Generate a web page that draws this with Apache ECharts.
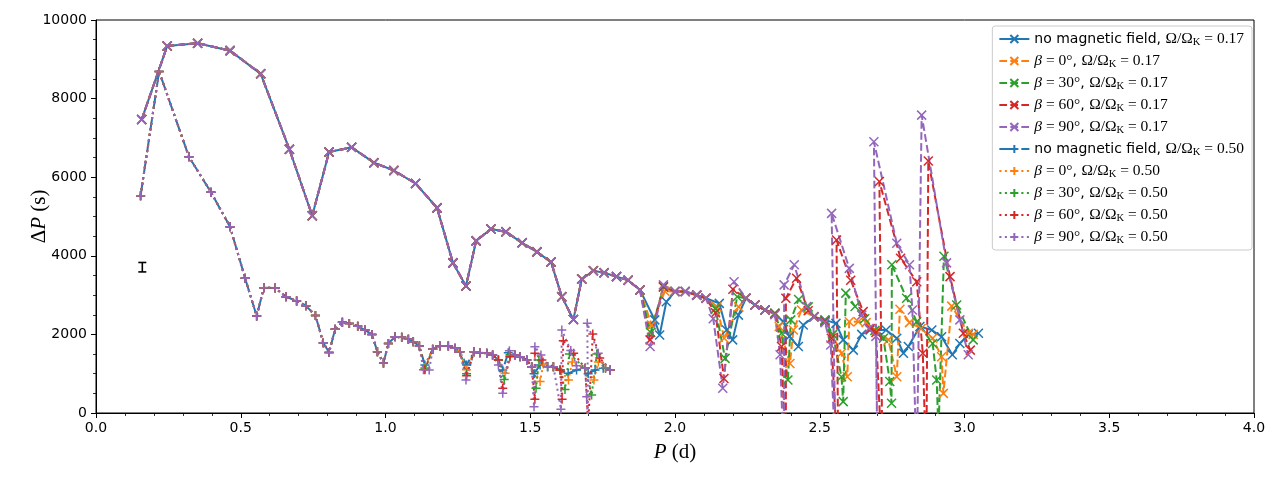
<!DOCTYPE html>
<html>
<head>
<meta charset="utf-8">
<title>Period spacing</title>
<script src="https://cdn.jsdelivr.net/npm/echarts@6/dist/echarts.min.js"></script>
<style>
  html, body { margin: 0; padding: 0; background: #fff; }
  #chart { width: 1280px; height: 480px; }
</style>
</head>
<body>
<div id="chart"></div>
<script>
// ---- data: [P (d), dP (s)] ----
// Omega/OmegaK = 0.17, shared part of all five curves
var upperHead = [[0.158,7470],[0.246,9340],[0.351,9410],[0.463,9220],[0.569,8630],[0.668,6710],[0.747,5020],
  [0.805,6640],[0.883,6760],[0.960,6370],[1.029,6170],[1.104,5840],[1.178,5220],[1.233,3820],[1.278,3230],
  [1.313,4380],[1.364,4680],[1.416,4610],[1.472,4330],[1.523,4100],[1.572,3840],[1.609,2960],[1.649,2380],
  [1.678,3410],[1.718,3620],[1.755,3570],[1.798,3470],[1.838,3380],[1.879,3130]];
var noMag017 = [[1.93,2370],[1.947,1985],[1.97,2830],[2.0,3090],[2.035,3090],[2.075,3000],[2.107,2920],
  [2.153,2790],[2.178,2110],[2.199,1860],[2.219,2490],[2.245,2920],[2.276,2750],[2.311,2620],[2.345,2540],
  [2.374,2320],[2.395,1950],[2.426,1690],[2.443,2240],[2.48,2450],[2.518,2370],[2.556,2280],[2.581,1860],
  [2.616,1600],[2.645,2000],[2.674,2110],[2.729,2110],[2.766,1900],[2.789,1520],[2.806,1690],[2.846,2200],
  [2.887,2110],[2.921,1940],[2.958,1480],[2.984,1770],[3.013,1990],[3.048,2030]];
var beta0_017 = [[1.919,2240],[1.965,3100],[2.0,3090],[2.035,3090],[2.075,3000],[2.107,2920],[2.145,2700],
  [2.17,1900],[2.22,2700],[2.245,2920],[2.276,2750],[2.311,2620],[2.345,2540],[2.36,2200],[2.397,1260],
  [2.409,2110],[2.437,2620],[2.48,2450],[2.518,2350],[2.575,1520],[2.595,920],[2.602,2320],[2.633,2320],
  [2.66,2300],[2.694,2100],[2.737,1860],[2.766,920],[2.777,2640],[2.81,2300],[2.85,2150],[2.89,1900],
  [2.921,1430],[2.927,500],[2.956,2720],[3.013,2030],[3.03,2000]];
var beta30_017 = [[1.916,2050],[1.96,3200],[2.0,3090],[2.035,3090],[2.075,3000],[2.107,2920],[2.14,2650],
  [2.173,1390],[2.215,2960],[2.245,2920],[2.276,2750],[2.311,2620],[2.345,2540],[2.368,2030],[2.39,840],
  [2.40,2370],[2.427,2890],[2.46,2700],[2.48,2450],[2.518,2350],[2.545,2000],[2.575,920],[2.581,290],
  [2.59,3050],[2.622,2710],[2.655,2400],[2.69,2100],[2.72,1900],[2.742,800],[2.748,250],[2.749,3770],
  [2.80,2920],[2.835,2320],[2.89,1770],[2.904,840],[2.91,-500],[2.929,3990],[2.973,2750],[3.03,1860]];
var beta60_017 = [[1.914,1860],[1.96,3220],[2.0,3090],[2.035,3090],[2.075,3000],[2.107,2920],[2.14,2550],
  [2.169,880],[2.2,3150],[2.245,2920],[2.276,2750],[2.311,2620],[2.345,2520],[2.368,1690],[2.383,-1500],
  [2.383,2920],[2.42,3430],[2.46,2600],[2.48,2450],[2.518,2330],[2.54,1900],[2.564,-1500],[2.558,4400],
  [2.607,3380],[2.65,2580],[2.674,2150],[2.694,2050],[2.717,-1500],[2.706,5890],[2.779,3940],[2.835,3340],
  [2.856,1520],[2.868,-1500],[2.875,6410],[2.95,3470],[2.996,2030],[3.02,1600]];
var beta90_017 = [[1.914,1690],[1.96,3260],[2.0,3090],[2.035,3090],[2.075,3000],[2.107,2920],[2.132,2400],
  [2.165,630],[2.204,3340],[2.245,2920],[2.276,2750],[2.311,2620],[2.345,2500],[2.363,1480],[2.377,-1500],
  [2.377,3260],[2.412,3770],[2.455,2710],[2.48,2450],[2.518,2300],[2.538,1730],[2.556,-1500],[2.541,5080],
  [2.602,3680],[2.645,2490],[2.67,2150],[2.694,1950],[2.70,-1500],[2.687,6900],[2.766,4320],[2.81,3770],
  [2.82,2620],[2.835,-1500],[2.852,7580],[2.938,3820],[2.984,2370],[3.013,1480]];

// Omega/OmegaK = 0.50, shared part of all five curves
var lowerHead = [[0.154,5530],[0.218,8690],[0.321,6520],[0.397,5620],[0.463,4740],[0.515,3430],[0.555,2470],
  [0.580,3190],[0.619,3180],[0.656,2960],[0.693,2850],[0.725,2730],[0.758,2480],[0.785,1790],[0.805,1540],
  [0.826,2130],[0.851,2310],[0.875,2280],[0.904,2210],[0.929,2110],[0.953,2000],[0.972,1560],[0.993,1270],
  [1.010,1770],[1.033,1940],[1.056,1925],[1.079,1875],[1.096,1815],[1.117,1705]];
var noMag050 = [[1.136,1220],[1.163,1620],[1.188,1705],[1.217,1705],[1.240,1646],[1.257,1560],[1.28,1220],
  [1.306,1560],[1.326,1535],[1.35,1518],[1.37,1476],[1.39,1349],[1.405,1094],[1.424,1535],[1.447,1476],
  [1.465,1433],[1.488,1349],[1.505,1179],[1.513,1000],[1.534,1221],[1.56,1180],[1.58,1179],[1.603,1094],
  [1.631,1010],[1.66,1094],[1.69,1137],[1.70,1000],[1.724,1094],[1.752,1137],[1.776,1094]];
var beta0_050 = [[1.136,1150],[1.163,1620],[1.188,1705],[1.217,1705],[1.240,1646],[1.257,1560],[1.28,1100],
  [1.306,1560],[1.326,1535],[1.35,1518],[1.37,1476],[1.39,1349],[1.413,1010],[1.43,1450],[1.447,1476],
  [1.465,1433],[1.488,1349],[1.505,1179],[1.534,800],[1.545,1250],[1.58,1179],[1.603,1094],[1.632,840],
  [1.645,1300],[1.69,1137],[1.72,840],[1.735,1300],[1.76,1137],[1.776,1094]];
var beta30_050 = [[1.136,1120],[1.163,1620],[1.188,1705],[1.217,1705],[1.240,1646],[1.257,1560],[1.28,1000],
  [1.306,1560],[1.326,1535],[1.35,1518],[1.37,1476],[1.39,1349],[1.41,850],[1.43,1480],[1.447,1476],
  [1.465,1433],[1.488,1349],[1.505,1179],[1.52,630],[1.53,1350],[1.56,1180],[1.58,1179],[1.603,1094],
  [1.62,600],[1.635,1500],[1.69,1137],[1.712,458],[1.73,1500],[1.76,1137],[1.776,1094]];
var beta60_050 = [[1.136,1100],[1.163,1620],[1.188,1705],[1.217,1705],[1.240,1646],[1.257,1560],[1.28,950],
  [1.306,1560],[1.326,1535],[1.35,1518],[1.37,1476],[1.39,1349],[1.405,628],[1.43,1430],[1.447,1476],
  [1.465,1433],[1.488,1349],[1.505,1179],[1.516,348],[1.516,1518],[1.54,1350],[1.58,1179],[1.603,1094],
  [1.61,350],[1.614,1840],[1.65,1520],[1.69,1137],[1.70,-300],[1.716,2010],[1.74,1400],[1.776,1094]];
var beta90_050 = [[1.131,1100],[1.151,1094],[1.163,1620],[1.188,1705],[1.217,1705],[1.240,1646],[1.257,1560],
  [1.278,840],[1.306,1560],[1.326,1535],[1.35,1518],[1.37,1476],[1.39,1221],[1.405,500],[1.428,1585],
  [1.447,1476],[1.465,1433],[1.488,1349],[1.505,1179],[1.513,160],[1.516,1687],[1.537,1476],[1.56,1180],
  [1.58,1179],[1.606,94],[1.609,2112],[1.64,1590],[1.66,1200],[1.69,1137],[1.695,415],[1.70,-500],
  [1.697,2282],[1.735,1518],[1.76,1150],[1.776,1094]];

// error bar [P, low, high]
var errorBar = [[0.160, 3590, 3830]];

var colors = ['#1f77b4', '#ff7f0e', '#2ca02c', '#d62728', '#9467bd'];
var prefixes = ['no magnetic field', '0', '30', '60', '90'];

var crossSym = 'path://M0,0L10,10M10,0L0,10';
var plusSym = 'path://M5,0L5,10M0,5L10,5';

function legendLabel(prefix, omega) {
	var tail = '{m|Ω/Ω}{s|K}{m| = ' + omega + '}';
	if (prefix === 'no magnetic field') return '{t|no magnetic field, }' + tail;
	return '{b|β}{m| = ' + prefix + '°}{t|, }' + tail;
}

function makeSeries(name, data, color, dash, symbol) {
	return {
		name: name,
		type: 'line',
		data: data,
		symbol: symbol,
		symbolSize: 9,
		showSymbol: true,
		clip: true,
		animation: false,
		itemStyle: { color: color, borderColor: color, borderWidth: 1.5 },
		lineStyle: { color: color, width: 2, type: dash },
		emphasis: { disabled: true }
	};
}

// matplotlib-like dash patterns at lw 1.5pt
var dashed = [7.7, 3.3];
var dashDot = [13.3, 3.3, 2.1, 3.3];
var dotted = [2.1, 3.4];

var set017 = [noMag017, beta0_017, beta30_017, beta60_017, beta90_017];
var set050 = [noMag050, beta0_050, beta30_050, beta60_050, beta90_050];

var labelMap = {};
var series = [];
set017.forEach(function (tail, i) {
	var name = prefixes[i] + ' / 0.17';
	labelMap[name] = legendLabel(prefixes[i], '0.17');
	series.push(makeSeries(name, upperHead.concat(tail), colors[i], i === 0 ? 'solid' : dashed, crossSym));
});
set050.forEach(function (tail, i) {
	var name = prefixes[i] + ' / 0.50';
	labelMap[name] = legendLabel(prefixes[i], '0.50');
	series.push(makeSeries(name, lowerHead.concat(tail), colors[i], i === 0 ? dashDot : dotted, plusSym));
});

// small error bar on the left
series.push({
	type: 'custom',
	data: errorBar,
	animation: false,
	silent: true,
	renderItem: function (params, api) {
		var x = api.value(0);
		var lo = api.coord([x, api.value(1)]);
		var hi = api.coord([x, api.value(2)]);
		var w = 4;
		var st = { stroke: '#000', lineWidth: 1.6 };
		return {
			type: 'group',
			children: [
				{ type: 'line', shape: { x1: lo[0], y1: lo[1], x2: hi[0], y2: hi[1] }, style: st },
				{ type: 'line', shape: { x1: lo[0] - w, y1: lo[1], x2: lo[0] + w, y2: lo[1] }, style: st },
				{ type: 'line', shape: { x1: hi[0] - w, y1: hi[1], x2: hi[0] + w, y2: hi[1] }, style: st }
			]
		};
	}
});

var chart = echarts.init(document.getElementById('chart'));

function axis(extra) {
	var a = {
		type: 'value',
		axisLine: { show: true, onZero: false, lineStyle: { color: '#000', width: 1 } },
		axisTick: { show: true, inside: false, length: 5, lineStyle: { color: '#000', width: 1 } },
		splitLine: { show: false },
		nameLocation: 'middle',
		nameMoveOverlap: false
	};
	for (var k in extra) a[k] = extra[k];
	return a;
}

var mathRich = {
	n: { fontFamily: 'Liberation Serif', fontSize: 21, color: '#000' },
	i: { fontFamily: 'Liberation Serif', fontStyle: 'italic', fontSize: 21, color: '#000' }
};

chart.setOption({
	backgroundColor: '#fff',
	animation: false,
	grid: { left: 96, right: 26, top: 20, bottom: 67, show: true, borderColor: '#000', borderWidth: 1, backgroundColor: 'transparent' },
	xAxis: axis({
		min: 0, max: 4, interval: 0.5,
		minorTick: { show: true, splitNumber: 5, length: 3, lineStyle: { color: '#000', width: 0.8 } },
		axisLabel: { color: '#000', fontSize: 14, fontFamily: 'DejaVu Sans', margin: 8, formatter: function (v) { return v.toFixed(1); } },
		name: '{i|P}{n| (d)}',
		nameGap: 29,
		nameTextStyle: { rich: mathRich }
	}),
	yAxis: axis({
		min: 0, max: 10000, interval: 2000,
		minorTick: { show: true, splitNumber: 4, length: 3, lineStyle: { color: '#000', width: 0.8 } },
		axisLabel: { color: '#000', fontSize: 14, fontFamily: 'DejaVu Sans', margin: 9, formatter: function (v) { return String(v); } },
		name: '{n|Δ}{i|P}{n| (s)}',
		nameGap: 46,
		nameRotate: 90,
		nameTextStyle: { rich: mathRich }
	}),
	legend: {
		orient: 'vertical',
		right: 28,
		top: 26,
		padding: [5, 8, 4, 6],
		itemGap: 5,
		itemWidth: 30,
		itemHeight: 10,
		backgroundColor: 'rgba(255,255,255,0.85)',
		borderColor: '#cccccc',
		borderWidth: 1,
		borderRadius: 3,
		selectedMode: false,
		formatter: function (name) { return labelMap[name]; },
		textStyle: {
			color: '#000',
			rich: {
				t: { fontFamily: 'DejaVu Sans', fontSize: 14, color: '#000' },
				m: { fontFamily: 'Liberation Serif', fontSize: 15.5, color: '#000' },
				b: { fontFamily: 'Liberation Serif', fontStyle: 'italic', fontSize: 15.5, color: '#000' },
				s: { fontFamily: 'Liberation Serif', fontSize: 10.5, color: '#000', padding: [7, 0, 0, 0] }
			}
		},
		data: series.filter(function (s) { return s.name; }).map(function (s) { return s.name; })
	},
	series: series
});
</script>
</body>
</html>
